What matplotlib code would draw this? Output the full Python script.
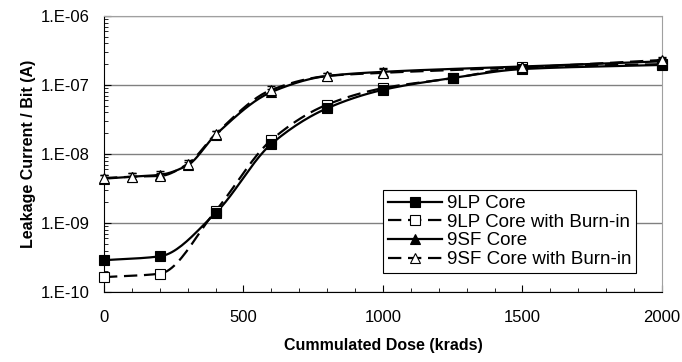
import numpy as np
import matplotlib
matplotlib.use("Agg")
import matplotlib.pyplot as plt
from matplotlib.ticker import FixedLocator, LogLocator, NullFormatter

plt.rcParams["font.family"] = ["Liberation Sans", "DejaVu Sans"]

# --- data ---
DOSE_LP = [0, 200, 400, 600, 800, 1000, 1250, 1500, 2000]
LP_CORE = [2.9e-10, 3.3e-10, 1.4e-9, 1.4e-8, 4.6e-8, 8.5e-8, 1.26e-7, 1.7e-7, 1.95e-7]
LP_BURN = [1.65e-10, 1.85e-10, 1.5e-9, 1.6e-8, 5.2e-8, 9.0e-8, 1.25e-7, 1.8e-7, 2.0e-7]

DOSE_SF = [0, 100, 200, 300, 400, 600, 800, 1000, 1500, 2000]
SF_CORE = [4.4e-9, 4.7e-9, 5.0e-9, 6.9e-9, 1.9e-8, 7.9e-8, 1.35e-7, 1.55e-7, 1.85e-7, 2.2e-7]
SF_BURN = [4.5e-9, 4.7e-9, 4.8e-9, 7.2e-9, 1.95e-8, 8.5e-8, 1.35e-7, 1.5e-7, 1.8e-7, 2.3e-7]

LABELS = ["9LP Core", "9LP Core with Burn-in", "9SF Core", "9SF Core with Burn-in"]


def smooth(x, y, n=24):
    """Monotone cubic Hermite curve through the points in log-y space."""
    x = np.asarray(x, float)
    ly = np.log10(y)
    h = np.diff(x)
    d = np.diff(ly) / h
    m = np.zeros_like(ly)
    m[0], m[-1] = d[0], d[-1]
    for i in range(1, len(x) - 1):
        if d[i - 1] * d[i] > 0:
            w1, w2 = 2 * h[i] + h[i - 1], h[i] + 2 * h[i - 1]
            m[i] = (w1 + w2) / (w1 / d[i - 1] + w2 / d[i])
    t = np.linspace(0, 1, n)
    xs, ys = [], []
    for i in range(len(x) - 1):
        h00 = 2 * t ** 3 - 3 * t ** 2 + 1
        h10 = t ** 3 - 2 * t ** 2 + t
        h01 = -2 * t ** 3 + 3 * t ** 2
        h11 = t ** 3 - t ** 2
        xs.append(x[i] + t * h[i])
        ys.append(h00 * ly[i] + h10 * h[i] * m[i] + h01 * ly[i + 1]
                  + h11 * h[i] * m[i + 1])
    return np.concatenate(xs), 10 ** np.concatenate(ys)


fig = plt.figure(figsize=(6.82, 3.62), dpi=100)
ax = fig.add_axes([0.1525, 0.193, 0.818, 0.763])

series = [
    (DOSE_LP, LP_BURN, "s", "white", (0, (6, 3))),
    (DOSE_LP, LP_CORE, "s", "black", "-"),
    (DOSE_SF, SF_CORE, "^", "black", "-"),
    (DOSE_SF, SF_BURN, "^", "white", (0, (6, 3))),
]
labels = [LABELS[1], LABELS[0], LABELS[2], LABELS[3]]
handles = {}
for (x, y, m, fc, ls), lab in zip(series, labels):
    sx, sy = smooth(x, y)
    ax.plot(sx, sy, color="black", lw=1.6, ls=ls, zorder=3, clip_on=False)
    eb = ax.errorbar(x, y, yerr=[np.asarray(y) * 0.1, np.asarray(y) * 0.12],
                     fmt="none", ecolor="black", elinewidth=0.8, capsize=3,
                     zorder=2)
    for art in eb.lines[1] + eb.lines[2]:
        art.set_clip_on(False)
    ax.plot(x, y, ls="none", marker=m, markersize=7, markerfacecolor=fc,
            markeredgecolor="black", markeredgewidth=0.8, zorder=4,
            clip_on=False)
    handles[lab], = ax.plot([], [], color="black", lw=1.6, ls=ls, marker=m,
                            markersize=7, markerfacecolor=fc,
                            markeredgecolor="black", markeredgewidth=0.8)

ax.set_yscale("log")
ax.set_ylim(1e-10, 1e-6)
ax.set_xlim(0, 2000)
ax.set_yticks([1e-10, 1e-9, 1e-8, 1e-7, 1e-6])
ax.set_yticklabels(["1.E-10", "1.E-09", "1.E-08", "1.E-07", "1.E-06"])
ax.yaxis.set_minor_locator(LogLocator(base=10, subs=np.arange(2, 10)))
ax.yaxis.set_minor_formatter(NullFormatter())
ax.set_xticks([0, 500, 1000, 1500, 2000])
ax.xaxis.set_minor_locator(FixedLocator(np.arange(0, 2001, 100)))
ax.tick_params(axis="both", which="both", direction="in", labelsize=12,
               top=False, right=False)
ax.tick_params(axis="y", which="major", length=5, pad=10)
ax.tick_params(axis="x", which="major", length=5, pad=13)
ax.tick_params(axis="both", which="minor", length=3)
ax.grid(axis="y", which="major", color="#808080", lw=1.0)
ax.set_axisbelow(True)
for s in ("top", "right"):
    ax.spines[s].set_color("#a0a0a0")

ax.set_xlabel("Cummulated Dose (krads)", fontsize=11.5, fontweight="bold",
              labelpad=9)
ax.set_ylabel("Leakage Current / Bit (A)", fontsize=11.5, fontweight="bold",
              labelpad=4)

leg = ax.legend([handles[l] for l in LABELS], LABELS, loc="lower right",
                bbox_to_anchor=(0.954, 0.07), fontsize=13.5, frameon=True,
                fancybox=False, edgecolor="black", framealpha=1,
                handlelength=2.9, labelspacing=0.08, borderpad=0.25,
                handletextpad=0.25, borderaxespad=0.0)
leg.get_frame().set_linewidth(0.8)

fig.savefig("out.png", dpi=100)
